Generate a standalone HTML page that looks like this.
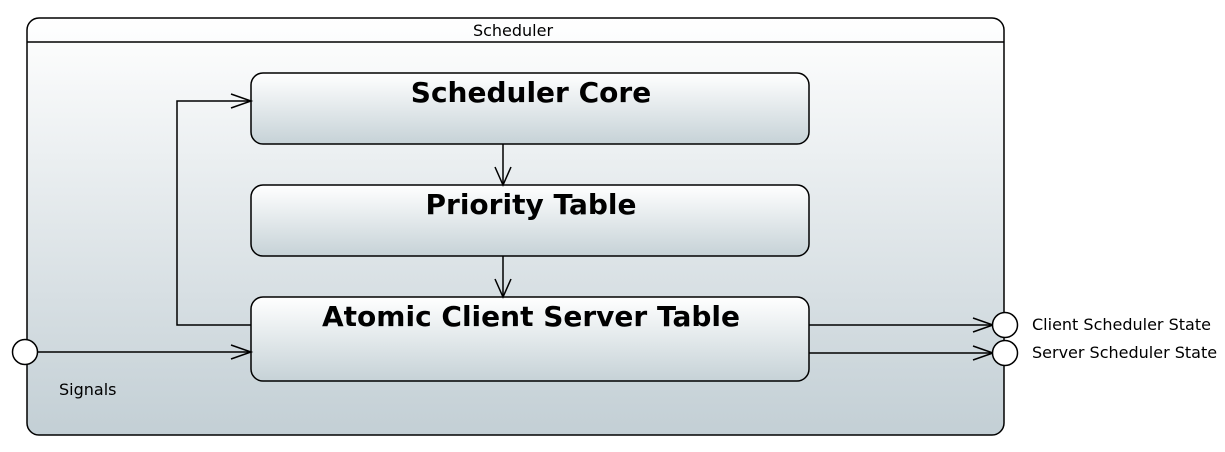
<!DOCTYPE html>
<html><head><style>body{margin:0;background:#fff}</style></head><body>
<svg width="1225" height="447" xmlns="http://www.w3.org/2000/svg" font-family="DejaVu Sans, Liberation Sans, sans-serif">
<defs>
<linearGradient id="g" x1="0" y1="0" x2="0" y2="1"><stop offset="0" stop-color="#ffffff"/><stop offset="1" stop-color="#c3cfd5"/></linearGradient>
<linearGradient id="b" x1="0" y1="0" x2="0" y2="1"><stop offset="0" stop-color="#ffffff"/><stop offset="1" stop-color="#c6d2d7"/></linearGradient>
</defs>
<rect x="27" y="18" width="977" height="417" rx="12" fill="url(#g)" stroke="#000" stroke-width="1.5"/>
<line x1="27" y1="42" x2="1004" y2="42" stroke="#000" stroke-width="1.5"/>
<text x="513" y="36" font-size="16" text-anchor="middle">Scheduler</text>
<rect x="251" y="73" width="558" height="71" rx="12" fill="url(#b)" stroke="#000" stroke-width="1.5"/>
<text x="531" y="102" font-size="28" font-weight="bold" text-anchor="middle">Scheduler Core</text>
<rect x="251" y="185" width="558" height="71" rx="12" fill="url(#b)" stroke="#000" stroke-width="1.5"/>
<text x="531" y="214" font-size="28" font-weight="bold" text-anchor="middle">Priority Table</text>
<rect x="251" y="297" width="558" height="84" rx="12" fill="url(#b)" stroke="#000" stroke-width="1.5"/>
<text x="531" y="326" font-size="28" font-weight="bold" text-anchor="middle">Atomic Client Server Table</text>
<g stroke="#000" stroke-width="1.5" fill="none">
<line x1="503" y1="144" x2="503" y2="185"/><polyline points="495,167 503,185 511,167"/>
<line x1="503" y1="256" x2="503" y2="297"/><polyline points="495,279 503,297 511,279"/>
<polyline points="251,325 177,325 177,101 251,101"/><polyline points="231,94 251,101 231,108"/>
<line x1="37" y1="352" x2="251" y2="352"/><polyline points="231,345 251,352 231,359"/>
<line x1="809" y1="325" x2="993" y2="325"/><polyline points="973,318 993,325 973,332"/>
<line x1="809" y1="353" x2="993" y2="353"/><polyline points="973,346 993,353 973,360"/>
</g>
<g fill="#fff" stroke="#000" stroke-width="1.5">
<circle cx="25" cy="352" r="12.5"/>
<circle cx="1005" cy="325" r="12.5"/>
<circle cx="1005" cy="353" r="12.5"/>
</g>
<text x="59" y="395" font-size="16">Signals</text>
<text x="1032" y="330" font-size="16">Client Scheduler State</text>
<text x="1032" y="358" font-size="16">Server Scheduler State</text>
</svg>
</body></html>
